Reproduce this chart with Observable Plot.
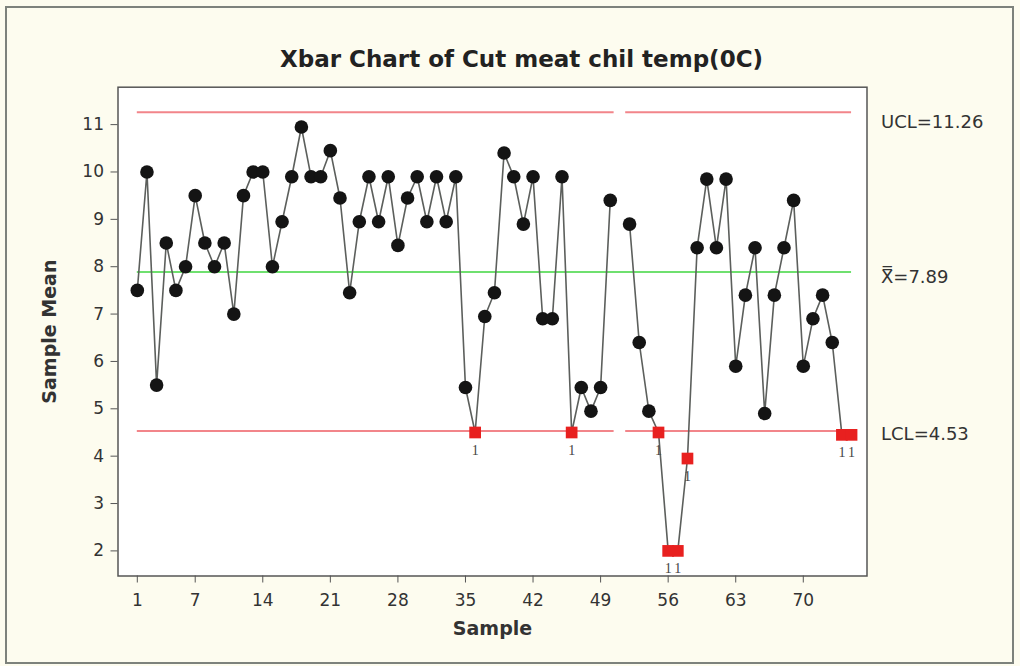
<!DOCTYPE html>
<html>
<head>
<meta charset="utf-8">
<script src="https://cdn.jsdelivr.net/npm/d3@7"></script>
<script src="https://cdn.jsdelivr.net/npm/@observablehq/plot@0.6"></script>
<style>
  html, body { margin: 0; padding: 0; background: #fbfbf0; }
  #wrap { position: relative; width: 1020px; height: 666px; background: #fdfcef; overflow: hidden; }
  #border { position: absolute; left: 5px; top: 6px; width: 1005px; height: 654px; border: 2px solid #7d827c; }
  #chart { position: absolute; left: 0; top: 0; }
</style>
</head>
<body>
<div id="wrap"><div id="border"></div><div id="chart"></div></div>
<script>
const title = "Xbar Chart of Cut meat chil temp(0C)";
const samples = d3.range(1, 76);
const means = [
  7.5, 10.0, 5.5, 8.5, 7.5, 8.0, 9.5, 8.5, 8.0, 8.5,
  7.0, 9.5, 10.0, 10.0, 8.0, 8.95, 9.9, 10.95, 9.9, 9.9,
  10.45, 9.45, 7.45, 8.95, 9.9, 8.95, 9.9, 8.45, 9.45, 9.9,
  8.95, 9.9, 8.95, 9.9, 5.45, 4.5, 6.95, 7.45, 10.4, 9.9,
  8.9, 9.9, 6.9, 6.9, 9.9, 4.5, 5.45, 4.95, 5.45, 9.4,
  null, 8.9, 6.4, 4.95, 4.5, 2.0, 2.0, 3.95, 8.4, 9.85,
  8.4, 9.85, 5.9, 7.4, 8.4, 4.9, 7.4, 8.4, 9.4, 5.9,
  6.9, 7.4, 6.4, 4.45, 4.45
];
const xTicks = [1, 7, 14, 21, 28, 35, 42, 49, 56, 63, 70];
const yTicks = [2, 3, 4, 5, 6, 7, 8, 9, 10, 11];
const UCL = 11.26, CL = 7.89, LCL = 4.53;
const stageStart = [1, 51.6];
const stageEnd = [50.4, 75];
const testLabel = "1";

const rows = samples.map((s, i) => ({sample: s, mean: means[i]}));
const valid = rows.filter(d => d.mean != null);
const inControl = valid.filter(d => d.mean >= LCL && d.mean <= UCL);
const outControl = valid.filter(d => d.mean < LCL || d.mean > UCL);
const stages = stageStart.map((s, i) => ({start: s, end: stageEnd[i]}));

const plot = Plot.plot({
  width: 1020,
  height: 666,
  marginLeft: 117.5,
  marginRight: 153.5,
  marginTop: 86.7,
  marginBottom: 90.5,
  style: {background: "transparent", fontFamily: "DejaVu Sans", fontSize: "17px", color: "#333"},
  x: {domain: [-1, 76.6], label: null},
  y: {domain: [1.47, 11.79], label: null},
  marks: [
    Plot.frame({fill: "white"}),
    Plot.ruleY(stages, {y: () => UCL, x1: "start", x2: "end", stroke: "#f2858a", strokeWidth: 2}),
    Plot.ruleY(stages, {y: () => LCL, x1: "start", x2: "end", stroke: "#f2858a", strokeWidth: 2}),
    Plot.ruleY([CL], {x1: samples[0], x2: samples[samples.length - 1], stroke: "#6fe06f", strokeWidth: 2}),
    Plot.line(rows, {x: "sample", y: "mean", stroke: "#5c5f5c", strokeWidth: 1.6}),
    Plot.dot(inControl, {x: "sample", y: "mean", r: 6.8, fill: "#141414", stroke: "none"}),
    Plot.dot(outControl, {x: "sample", y: "mean", r: 6.6, symbol: "square", fill: "#e8201f", stroke: "none"}),
    Plot.text(outControl, {x: "sample", y: "mean", text: () => testLabel, dy: 18, fontFamily: "Liberation Serif", fontSize: 14, fill: "#444"}),
    Plot.frame({stroke: "#555", strokeWidth: 1.5}),
    Plot.axisX({ticks: xTicks, tickSize: 7, tickPadding: 11, stroke: "#555", fill: "#333", label: null}),
    Plot.axisY({ticks: yTicks, tickSize: 7, tickPadding: 7, stroke: "#555", fill: "#333", label: null}),
    Plot.text(["Sample"], {frameAnchor: "bottom", lineAnchor: "middle", dy: 53, fontWeight: "bold", fontSize: 19, fill: "#333"}),
    Plot.text(["Sample Mean"], {frameAnchor: "left", textAnchor: "middle", lineAnchor: "middle", rotate: -90, dx: -68, fontWeight: "bold", fontSize: 19, fill: "#333"}),
    Plot.text([title], {frameAnchor: "top", lineAnchor: "middle", dy: -27.5, dx: 29, fontWeight: "bold", fontSize: 23, fill: "#222"}),
    Plot.text([UCL], {frameAnchor: "right", y: d => d, text: d => `UCL=${d}`, textAnchor: "start", dx: 14, dy: 10, fontSize: 18, fill: "#333"}),
    Plot.text([CL], {frameAnchor: "right", y: d => d, text: d => `X\u033F=${d}`, textAnchor: "start", dx: 14, dy: 5.5, fontSize: 18, fill: "#333"}),
    Plot.text([LCL], {frameAnchor: "right", y: d => d, text: d => `LCL=${d}`, textAnchor: "start", dx: 14, dy: 3, fontSize: 18, fill: "#333"})
  ]
});
document.getElementById("chart").appendChild(plot);
</script>
</body>
</html>
